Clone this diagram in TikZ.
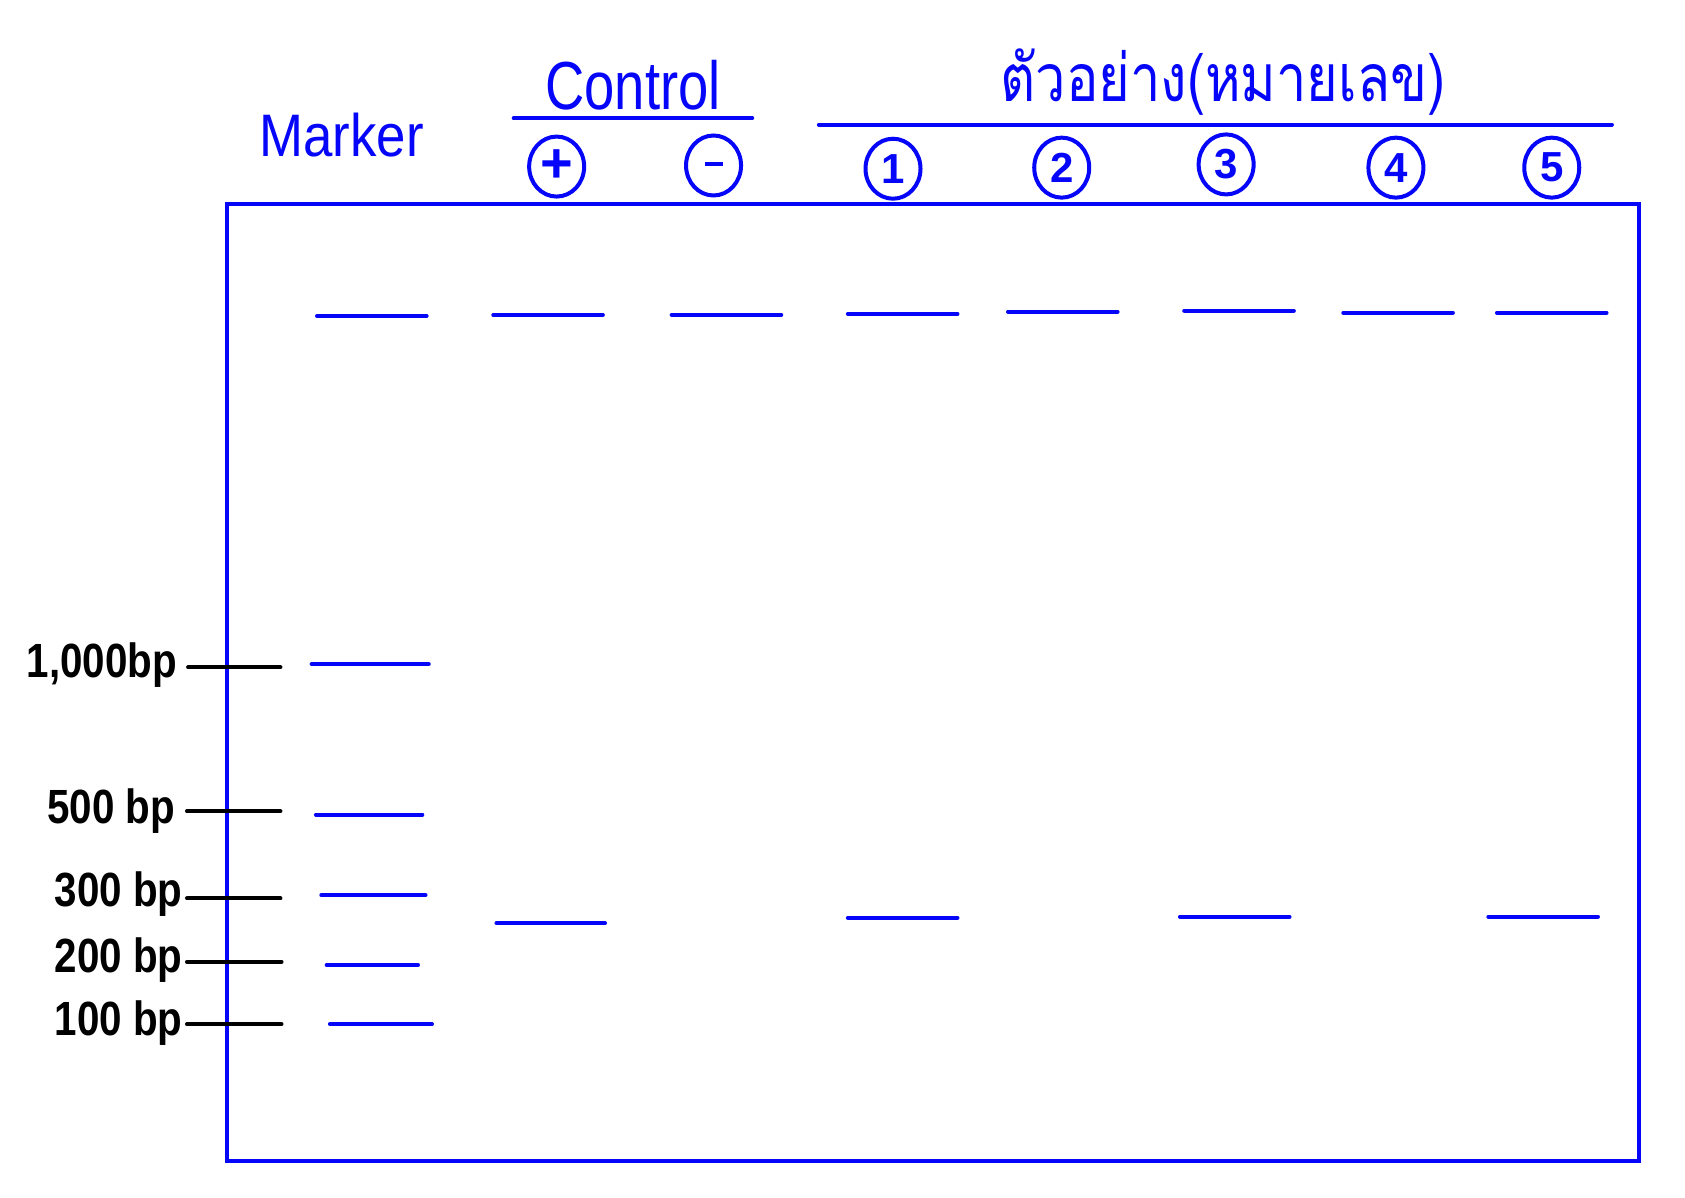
\documentclass[tikz,border=0pt]{standalone}
\usepackage{fontspec}
\usepackage{graphicx}
\usetikzlibrary{shapes.geometric}
\setmainfont{Liberation Sans}
\newfontfamily\thaifont[Script=Thai]{Loma}
\definecolor{gelblue}{RGB}{5,5,250}
\newcommand{\narrow}[2][0.8]{\scalebox{#1}[1]{#2}}
\begin{document}
\begin{tikzpicture}[x=1.0746pt,y=-1.0746pt,
  band/.style={draw=gelblue,line width=4pt,line cap=round},
  tick/.style={draw=black,line width=4pt,line cap=round},
  gel/.style={draw=gelblue,line width=4pt},
  lanecirc/.style={draw=gelblue,line width=4pt,ellipse,minimum width=55pt,minimum height=60pt,inner sep=0pt,text=gelblue,font=\bfseries\fontsize{42}{46}\selectfont},
  bluetext/.style={text=gelblue,inner sep=0pt},
  sizelbl/.style={anchor=east,inner sep=0pt,text=black,font=\bfseries\fontsize{48}{50}\selectfont}]
\useasboundingbox (0,0) rectangle (1568,1114);
\fill[white] (0,0) rectangle (1568,1114);
% gel
\draw[gel] (211,190) rectangle (1525,1080);
% headers
\node[bluetext,font=\fontsize{60}{66}\selectfont] (marker) at (318,126) {\narrow[0.88]{Marker}};
\node[bluetext,font=\fontsize{68}{74}\selectfont] (control) at (589,79) {\narrow[0.8]{Control}};
\coordinate (cl) at (478,110); \coordinate (cr) at (700,110);
\draw[gelblue,line width=4pt,line cap=round] (cl) -- (cr);
\node[bluetext,font=\thaifont\fontsize{66}{72}\selectfont] (sample) at (1138,76) {\narrow[0.82]{ตัวอย่าง(หมายเลข)}};
\coordinate (sl) at (762,116); \coordinate (sr) at (1500,116);
\draw[gelblue,line width=4pt,line cap=round] (sl) -- (sr);
% lane circles
\node[lanecirc,font=\bfseries\fontsize{56}{60}\selectfont] (cp) at (518,155) {\raisebox{-2pt}{+}};
\node[lanecirc] (cn) at (664,154) {\raisebox{3pt}{\rule{18pt}{4.5pt}}};
\node[lanecirc] (c1) at (831,157) {1};
\node[lanecirc] (c2) at (988,156) {2};
\node[lanecirc] (c3) at (1141,153) {3};
\node[lanecirc] (c4) at (1299,156) {4};
\node[lanecirc] (c5) at (1444,156) {5};
% top (well) bands
\foreach \xa/\xb/\yy in {295/397/294,459/561/293,625/727/293,789/891/292,938/1040/290,1102/1204/289,1250/1352/291,1393/1495/291}
  \draw[band] (\xa,\yy) -- (\xb,\yy);
% marker bands
\foreach \xa/\xb/\yy in {290/399/618,294/393/758,299/396/833,304/389/898,307/402/953}
  \draw[band] (\xa,\yy) -- (\xb,\yy);
% sample bands
\foreach \xa/\xb/\yy in {462/563/859,789/891/854,1098/1200/853,1385/1487/853}
  \draw[band] (\xa,\yy) -- (\xb,\yy);
% size labels and ticks
\node[sizelbl] (l1000) at (165,619) {\narrow[0.84]{1,000bp}};
\node[sizelbl] (l500) at (163,755) {\narrow[0.84]{500 bp}};
\node[sizelbl] (l300) at (170,832) {\narrow[0.84]{300 bp}};
\node[sizelbl] (l200) at (170,893) {\narrow[0.84]{200 bp}};
\node[sizelbl] (l100) at (170,952) {\narrow[0.84]{100 bp}};
\coordinate (t1) at (261,621); \coordinate (t2) at (261,755);
\coordinate (t3) at (261,836); \coordinate (t4) at (262,895); \coordinate (t5) at (262,953);
\draw[tick] (l1000.east) ++(10,2) -- (t1);
\draw[tick] (l500.east) ++(11,0) -- (t2);
\draw[tick] (l300.east) ++(4,4) -- (t3);
\draw[tick] (l200.east) ++(4,2) -- (t4);
\draw[tick] (l100.east) ++(4,1) -- (t5);
\end{tikzpicture}
\end{document}
